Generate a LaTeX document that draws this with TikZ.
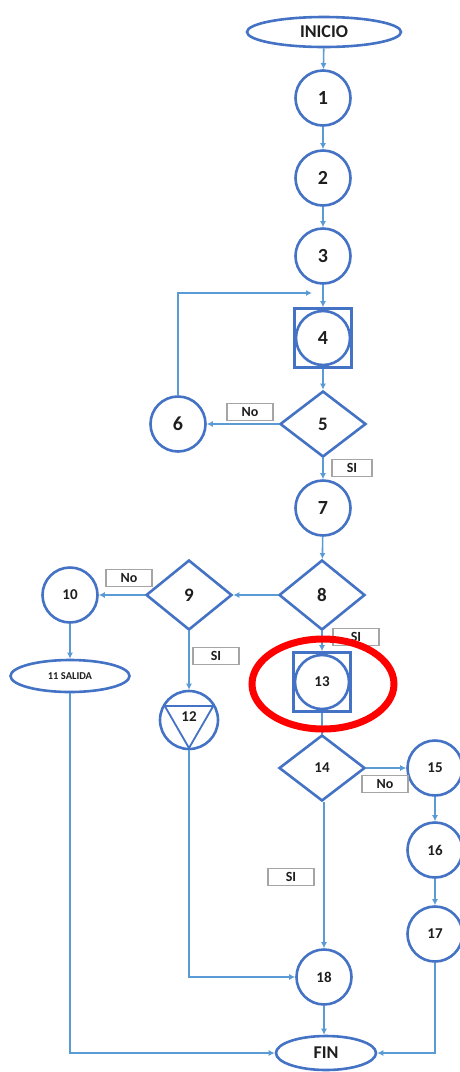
\documentclass[tikz,border=0pt]{standalone}
\usepackage{fontspec}
\setmainfont{Carlito}
\usetikzlibrary{shapes.geometric,arrows.meta,calc}
\definecolor{shapeblue}{RGB}{68,114,196}
\definecolor{lineblue}{RGB}{91,155,213}
\definecolor{boxgray}{RGB}{165,165,165}
\definecolor{textdark}{RGB}{30,30,30}
\tikzset{
  x=1pt, y=-1pt,
  every node/.style={text=textdark, font=\bfseries},
  circ/.style={circle, draw=shapeblue, line width=2.6pt, fill=white, minimum size=55pt, inner sep=0pt, font=\bfseries\fontsize{20}{20}\selectfont},
  circsm/.style={circ, font=\bfseries\fontsize{15}{15}\selectfont},
  oval/.style={ellipse, draw=shapeblue, line width=2.6pt, fill=white, inner sep=0pt},
  decision/.style={diamond, draw=shapeblue, line width=2.6pt, fill=white, inner sep=0pt, minimum width=86pt, minimum height=66pt, font=\bfseries\fontsize{19}{19}\selectfont},
  sqbox/.style={rectangle, draw=shapeblue, line width=2.6pt, fill=white, minimum width=57pt, minimum height=59pt, inner sep=0pt},
  conn/.style={draw=lineblue, line width=1.6pt, -{Latex[length=6pt,width=6pt]}},
  plain/.style={draw=lineblue, line width=1.6pt},
  tag/.style={rectangle, draw=boxgray, line width=1.2pt, fill=white, minimum width=46pt, minimum height=17pt, inner sep=0pt, font=\bfseries\fontsize{14}{14}\selectfont},
}
\begin{document}
\begin{tikzpicture}
\useasboundingbox (0,0) rectangle (460,1072);

% main column
\node[oval, minimum width=154pt, minimum height=30pt, font=\bfseries\fontsize{18}{18}\selectfont] (ini) at (324,32) {INICIO};
\node[circ] (n1) at (323,98) {1};
\node[circ] (n2) at (323,178) {2};
\node[circ] (n3) at (323,256) {3};
\node[sqbox] (n4) at (323,338) {};
\node[circ, minimum size=54pt] (n4c) at (323,338) {4};
\node[decision] (n5) at (323,424) {5};
\node[circ] (n6) at (178,424) {6};
\node[circ] (n7) at (323,508) {7};
\node[decision, minimum height=70pt] (n8) at (322,595) {8};
\node[decision, minimum height=70pt] (n9) at (189,595) {9};
\node[circsm] (n10) at (70,595) {10};
\node[oval, minimum width=119pt, minimum height=32pt, font=\bfseries\fontsize{10.5}{10.5}\selectfont] (n11) at (70,676) {11 SALIDA};
\node[circ, minimum size=58pt] (n12) at (189,720) {};
\node[sqbox] (n13) at (322,682) {};
\node[circsm, minimum size=54pt] (n13c) at (322,682) {13};
\node[decision, minimum height=66pt, font=\bfseries\fontsize{15}{15}\selectfont] (n14) at (322,768) {14};
\node[circsm] (n15) at (435,768) {15};
\node[circsm] (n16) at (435,850) {16};
\node[circsm] (n17) at (435,934) {17};
\node[circsm] (n18) at (324,977) {18};
\node[oval, minimum width=100pt, minimum height=34pt, font=\bfseries\fontsize{18}{18}\selectfont] (fin) at (326,1053) {FIN};

% inverted triangle inside 12
\draw[shapeblue, line width=1.8pt]
  ($(n12.center)+(150:28pt)$) -- ($(n12.center)+(30:28pt)$) -- ($(n12.center)+(270:28pt)$) -- cycle;
\node[circsm, draw=none, fill=none] (n12t) at (189,717) {12};

% connectors
\coordinate (loopin) at (312,293);
\draw[conn] (ini) -- (n1);
\draw[conn] (n1) -- (n2);
\draw[conn] (n2) -- (n3);
\draw[conn] (n3) -- (n4);
\draw[conn] (n6.north) |- (loopin);
\draw[conn] (n4) -- (n5);
\draw[conn] (n5) -- (n6);
\draw[conn] (n5) -- (n7);
\draw[conn] (n7) -- (n8);
\draw[conn] (n8) -- (n9);
\draw[conn] (n9) -- (n10);
\draw[conn] (n10) -- (n11);
\draw[conn] (n9) -- (n12);
\draw[conn] (n8) -- (n13);
\draw[plain] (n13) -- (n14);
\draw[conn] (n14) -- (n15);
\draw[conn] (n15) -- (n16);
\draw[conn] (n16) -- (n17);
\draw[conn] (n18.north |- n14.south) -- (n18.north);
\draw[conn] (n12.south) |- (n18.west);
\draw[conn] (n11.south) |- (fin.west);
\draw[conn] (n17.south) |- (fin.east);
\draw[conn] (n18.south) -- (n18.south |- fin.north);

% branch labels
\node[tag] (t5no) at (250,412) {No};
\node[tag, minimum width=40pt] (t5si) at (352,468) {SI};
\node[tag] (t9no) at (129,578) {No};
\node[tag] (t9si) at (216,656) {SI};
\node[tag] (t8si) at (356,637) {SI};
\node[tag] (t14no) at (385,784) {No};
\node[tag] (t14si) at (291,877) {SI};

% highlight around 13
\draw[red, line width=7pt] (323,684) ellipse [x radius=71pt, y radius=45pt];
\end{tikzpicture}
\end{document}
